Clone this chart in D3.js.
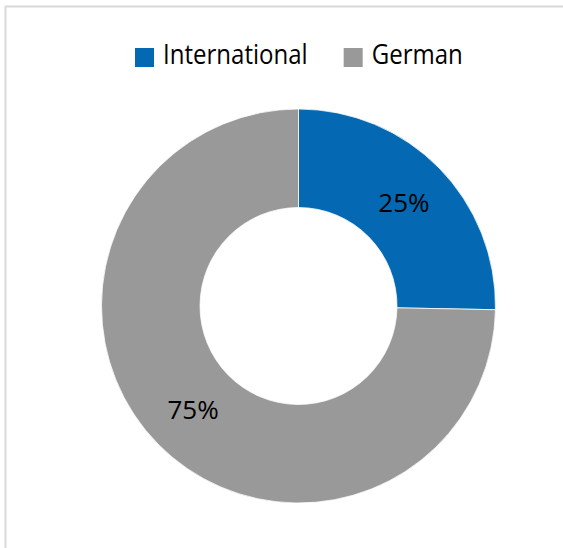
<!DOCTYPE html>
<html>
<head>
<meta charset="utf-8">
<script src="https://cdn.jsdelivr.net/npm/d3@7"></script>
<style>
  body { margin: 0; background: #fff; }
  text { font-family: "Open Sans", "Noto Sans", sans-serif; fill: #000; }
</style>
</head>
<body>
<div id="chart"></div>
<script>
var width = 563, height = 548

// data
var categories = ["International", "German"]
var shares = [0.253, 0.747]
var colours = ["#0469B2", "#999999"]

var svg = d3.select("#chart")
  .append("svg")
  .attr("width", width)
  .attr("height", height)

// light frame, only left and top edges show
svg.append("rect")
  .attr("x", 5.5)
  .attr("y", 6.5)
  .attr("width", 700)
  .attr("height", 700)
  .attr("fill", "none")
  .attr("stroke", "#D9D9D9")
  .attr("stroke-width", 2)

var cx = 298.5, cy = 306
  , outer = 197, inner = 98.5

var pie = d3.pie().sort(null).value(d => d)
var arc = d3.arc().innerRadius(inner).outerRadius(outer)

var g = svg.append("g")
  .attr("transform", "translate(" + cx + "," + cy + ")")

var slices = pie(shares)

g.selectAll(".slice")
  .data(slices)
  .enter()
  .append("path")
  .attr("class", "slice")
  .attr("d", arc)
  .attr("fill", (d, i) => colours[i])
  .attr("stroke", "#fff")
  .attr("stroke-width", 0.75)

var fmt = d3.format(".0%")

g.selectAll(".lbl")
  .data(slices)
  .enter()
  .append("text")
  .attr("class", "lbl")
  .attr("x", d => arc.centroid(d)[0])
  .attr("y", d => arc.centroid(d)[1])
  .attr("dy", "0.36em")
  .attr("text-anchor", "middle")
  .style("font-size", "26px")
  .text(d => fmt(d.data))

// legend (text squeezed a bit, the original font runs narrower)
var legend = svg.append("g").attr("class", "legend")
var lx = 135
categories.forEach(function (name, i) {
  var item = legend.append("g").attr("transform", "translate(" + lx + ",48)")
  item.append("rect")
    .attr("width", 19)
    .attr("height", 19)
    .attr("fill", colours[i])
  var t = item.append("text")
    .attr("x", 28)
    .attr("y", 16)
    .style("font-size", "27px")
    .text(name)
  var w = t.node().getComputedTextLength() * 0.89
  t.attr("textLength", w).attr("lengthAdjust", "spacingAndGlyphs")
  lx += 28 + w + 36
})
</script>
</body>
</html>
